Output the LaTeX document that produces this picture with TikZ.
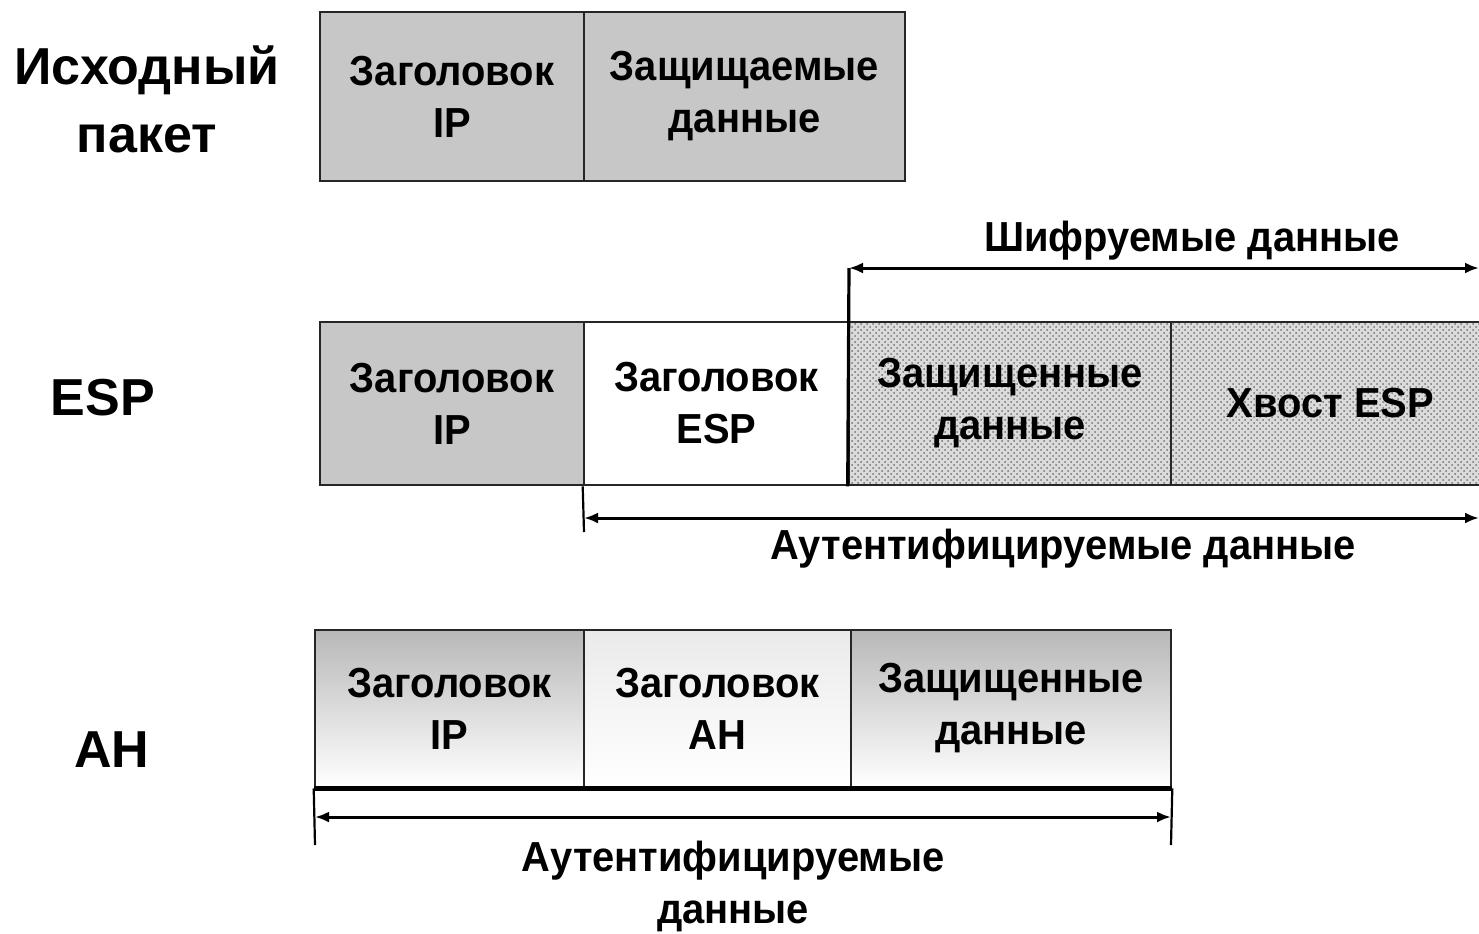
\documentclass[tikz,border=0pt]{standalone}
\usepackage{fontspec}
\setmainfont{Liberation Sans}
\newfontfamily\cellfont{Liberation Sans}[FakeStretch=0.95]
\usetikzlibrary{patterns,arrows.meta}
\begin{document}
\begin{tikzpicture}[x=0.5pt,y=-0.5pt,
 cell/.style={draw=black!85, line width=1.3pt, align=center, inner sep=0pt,
   font=\cellfont\fontsize{21}{26}\selectfont\bfseries},
 grayfill/.style={fill=black!22},
 dotted cell/.style={preaction={fill=black!14}, pattern=crosshatch dots, pattern color=black!55},
 shade dark/.style={top color=black!28, bottom color=white},
 shade light/.style={top color=black!8, bottom color=white},
 biglabel/.style={font=\fontsize{26}{34}\selectfont\bfseries, align=center},
 lbl/.style={font=\cellfont\fontsize{21}{26}\selectfont\bfseries, inner sep=0pt},
 dim/.style={line width=1.5pt, {Latex[length=7pt,width=5.5pt]}-{Latex[length=7pt,width=5.5pt]}},
 tick/.style={line width=1.1pt}]
\clip (0,0) rectangle (1479,933);
\fill[white] (0,0) rectangle (1479,933);

% Original packet
\node[biglabel] (lorig) at (147,99) {Исходный\\пакет};
\node[cell, grayfill, minimum width=132pt, minimum height=84.5pt] (ip0) at (452,96.5) {Заголовок\\IP};
\node[cell, grayfill, minimum width=160.5pt, minimum height=84.5pt] (data0) at (744.5,96.5) {Защищаемые\\данные};

% ESP
\node[biglabel] (lesp) at (103,398) {ESP};
\node[cell, grayfill, minimum width=132pt, minimum height=81.5pt] (ip1) at (452,403.5) {Заголовок\\IP};
\node[cell, fill=white, minimum width=132.5pt, minimum height=81.5pt] (esphdr) at (716.5,403.5) {Заголовок\\ESP};
\node[cell, dotted cell, minimum width=161pt, minimum height=81.5pt] (prot1) at (1010,403.5) {Защищенные\\данные};
\node[cell, dotted cell, minimum width=159.5pt, minimum height=81.5pt] (tail) at (1330.5,403.5) {Хвост ESP};

\coordinate (encL) at (849,268);
\coordinate (encR) at (1479,268);
\draw[line width=1.6pt] (prot1.south west) -- (encL);
\draw[dim] (encL) -- (encR);
\node[lbl] (encl) at (1192,241) {Шифруемые данные};

\coordinate (authT) at (584,532);
\coordinate (authL) at (584,518);
\coordinate (authR) at (1479,518);
\draw[tick] (esphdr.south west) -- (authT);
\draw[dim] (authL) -- (authR);
\node[lbl] (authl) at (1063,549) {Аутентифицируемые данные};

% AH
\node[biglabel] (lah) at (112,750) {AH};
\node[cell, shade dark, minimum width=134.5pt, minimum height=78.5pt] (ip2) at (449.5,708.5) {Заголовок\\IP};
\node[cell, shade light, minimum width=133.5pt, minimum height=78.5pt] (ahhdr) at (717.5,708.5) {Заголовок\\AH};
\node[cell, shade dark, minimum width=160pt, minimum height=78.5pt] (prot2) at (1011,708.5) {Защищенные\\данные};
\draw[line width=2.5pt] (ip2.south west) -- (prot2.south east);

\coordinate (ahTL) at (315,845);
\coordinate (ahTR) at (1171,845);
\coordinate (ahA) at (315,817);
\coordinate (ahB) at (1171,817);
\draw[tick] (ip2.south west) -- (ahTL);
\draw[tick] (prot2.south east) -- (ahTR);
\draw[dim] (ahA) -- (ahB);
\node[lbl, align=center] (ahl) at (733,886) {Аутентифицируемые\\данные};
\end{tikzpicture}
\end{document}
